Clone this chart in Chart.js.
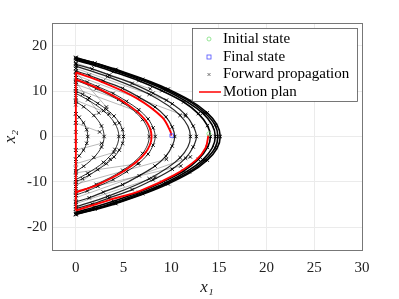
<!DOCTYPE html>
<html>
<head>
<meta charset="utf-8">
<script src="https://cdn.jsdelivr.net/npm/chart.js@4/dist/chart.umd.min.js"></script>
<style>
  body { margin: 0; background: #fff; }
</style>
</head>
<body>
<canvas id="myChart" width="399" height="299"></canvas>
<script>
const xTicks = [0, 5, 10, 15, 20, 25, 30];
const yTicks = [-20, -10, 0, 10, 20];

const initialState = [[13.95, 0.6]];
const finalState = [[10.05, 0.2]];

// forward propagation, one list of [x1, x2] per trajectory
const fwdOuter = [
  [[0,17.4],[4.20,14.79],[9.69,10.44],[13.78,5.22],[15.14,0],[13.78,-5.22],[9.69,-10.44],[4.20,-14.79],[0,-17.2]],
  [[0,17.25],[2.0,16.2],[4.13,14.66],[7.0,12.6],[9.52,10.35],[11.9,7.8],[13.54,5.18],[14.6,2.5],[14.88,0],[14.6,-2.5],[13.54,-5.18],[11.9,-7.8],[9.52,-10.35],[7.0,-12.6],[4.13,-14.66],[2.0,-16.0],[0,-17.1]],
  [[0,17.1],[4.06,14.54],[9.36,10.26],[13.30,5.13],[14.62,0],[13.30,-5.13],[9.36,-10.26],[4.06,-14.54],[0,-17.0]],
  [[0,16.8],[1.9,15.7],[3.92,14.28],[6.6,12.3],[9.03,10.08],[11.3,7.6],[12.84,5.04],[13.8,2.4],[14.11,0],[13.8,-2.4],[12.84,-5.04],[11.3,-7.6],[9.03,-10.08],[6.6,-12.3],[3.92,-14.28],[1.9,-15.6],[0,-16.7]]
];
const fwdMiddle = [
  [[0,15.9],[1.7,14.9],[3.51,13.52],[5.9,11.7],[8.09,9.54],[10.1,7.2],[11.50,4.77],[12.3,2.3],[12.64,0],[12.3,-2.3],[11.50,-4.77],[10.1,-7.2],[8.09,-9.54],[5.9,-11.7],[3.51,-13.52],[1.7,-14.9],[0,-15.9]],
  [[0,15.5],[3.33,13.18],[7.69,9.30],[10.93,4.65],[12.01,0],[10.93,-4.65],[7.69,-9.30],[3.33,-13.18],[0,-15.5]],
  [[0,14.4],[1.4,13.5],[2.88,12.24],[4.9,10.6],[6.64,8.64],[8.3,6.5],[9.44,4.32],[10.1,2.1],[10.37,0],[10.1,-2.1],[9.44,-4.32],[8.3,-6.5],[6.64,-8.64],[4.9,-10.6],[2.88,-12.24],[1.4,-13.5],[0,-14.4]]
];
const fwdInner = [
  [[0,12.9],[1.2,12.0],[2.31,10.97],[3.9,9.5],[5.32,7.74],[6.6,5.9],[7.57,3.87],[8.1,1.9],[8.32,0],[8.1,-1.9],[7.57,-3.87],[6.6,-5.9],[5.32,-7.74],[3.9,-9.5],[2.31,-10.97],[1.2,-12.0],[0,-12.9]],
  [[0,12.4],[2.13,10.54],[4.92,7.44],[7.00,3.72],[7.69,0],[7.00,-3.72],[4.92,-7.44],[2.13,-10.54],[0,-12.4]],
  [[0,10.0],[0.7,9.3],[1.39,8.5],[2.3,7.3],[3.2,6.0],[4.0,4.5],[4.55,3.0],[4.9,1.5],[5.0,0],[4.9,-1.5],[4.55,-3.0],[4.0,-4.5],[3.2,-6.0],[2.3,-7.3],[1.39,-8.5],[0.7,-9.3],[0,-10.0]],
  [[0,9.5],[1.25,8.08],[2.89,5.7],[4.10,2.85],[4.51,0],[4.10,-2.85],[2.89,-5.7],[1.25,-8.08],[0,-9.5]],
  [[0,7.7],[0.82,6.55],[1.89,4.62],[2.69,2.31],[2.96,0],[2.69,-2.31],[1.89,-4.62],[0.82,-6.55],[0,-7.7]],
  [[0,5.0],[0.35,4.25],[0.8,3.0],[1.14,1.5],[1.25,0],[1.14,-1.5],[0.8,-3.0],[0.35,-4.25],[0,-5.0]]
];
const fwdFan = [
  [[0,16.2],[7.8,10.5]], [[0,15.0],[9.5,8.0]], [[0,13.5],[11.5,4.5]],
  [[0,11.5],[4.5,8.2]], [[0,10.5],[6.5,5.5]], [[0,8],[3.5,5]],
  [[0,3],[2.5,1]], [[0,-3],[2.7,-1.5]], [[0,-6],[4,-3.5]],
  [[0,-8],[6.5,-6]], [[0,-10.5],[9.5,-5]], [[0,-12],[11,-6.5]], [[0,-13.5],[12,-4.5]],
  [[0,14.2],[3.2,6.5]], [[0,12],[2.4,5.2]], [[0,-11],[3.6,-5]], [[0,-14.8],[8.3,-9]]
];
const fwdAxis = [[0,17.4],[0,16],[0,15],[0,13.5],[0,12],[0,10],[0,8.5],[0,7],[0,5],[0,3],[0,1],
  [0,-1],[0,-3],[0,-5],[0,-7],[0,-8.5],[0,-10],[0,-11.5],[0,-13],[0,-14.5],[0,-16],[0,-17.2]];

// motion plan
const planAxis = [[0,14.1],[0,-16.3]];
const planTop = [[0,14.1],[2.76,11.99],[6.36,8.46],[9.05,4.23],[9.94,1.0],[10.0,0.2]];
const planInner = [[0,12.6],[2.2,10.71],[5.08,7.56],[7.22,3.78],[7.94,0],[7.22,-3.78],[5.08,-7.56],[2.2,-10.71],[0,-12.3]];
const planBottom = [[0,-16.3],[3.5,-14.0],[6.8,-11.9],[10.3,-8.5],[12.6,-5.2],[13.6,-2.5],[13.9,0.3]];

const serif = "'Liberation Serif', 'Times New Roman', serif";
const toXY = (arr) => arr.map(p => ({ x: p[0], y: p[1] }));

const datasets = [];
datasets.push({ label: "Initial state", data: toXY(initialState), showLine: false,
  pointStyle: "circle", pointRadius: 2, borderColor: "#7ee07e", backgroundColor: "transparent", borderWidth: 0.8 });
datasets.push({ label: "Final state", data: toXY(finalState), showLine: false,
  pointStyle: "rect", pointRadius: 2.5, borderColor: "#4d4dff", backgroundColor: "transparent", borderWidth: 0.8 });
[planAxis, planTop, planInner, planBottom].forEach((line) => {
  datasets.push({ label: "Motion plan", data: toXY(line), showLine: true, tension: 0.35,
    borderColor: "#ff0000", borderWidth: 1.9, pointRadius: 0 });
});
function addForward(group, width, color) {
  group.forEach((traj) => {
    datasets.push({ label: "Forward propagation", data: toXY(traj), showLine: true, tension: 0.35,
      borderColor: color, borderWidth: width,
      pointStyle: "crossRot", pointRadius: 2.4, pointBorderColor: "#000", pointBorderWidth: 0.9 });
  });
}
addForward(fwdOuter, 1.6, "#000");
addForward(fwdMiddle, 1.2, "rgba(0,0,0,0.85)");
addForward(fwdInner, 1.0, "rgba(0,0,0,0.8)");
addForward(fwdFan, 0.5, "rgba(0,0,0,0.55)");
datasets.push({ label: "Forward propagation", data: toXY(fwdAxis), showLine: false,
  pointStyle: "crossRot", pointRadius: 2.4, pointBorderColor: "#000", pointBorderWidth: 0.9 });

const boxPlugin = {
  id: "box",
  afterDraw(chart) {
    const { ctx, chartArea: a } = chart;
    ctx.save();
    ctx.strokeStyle = "#777";
    ctx.lineWidth = 1;
    ctx.strokeRect(a.left + 0.5, a.top + 0.5, a.right - a.left, a.bottom - a.top);

    // legend in the top right corner
    const lx = 192, ly = 28, lw = 165, lh = 73;
    ctx.fillStyle = "#fff";
    ctx.fillRect(lx, ly, lw, lh);
    ctx.strokeStyle = "#555";
    ctx.lineWidth = 0.8;
    ctx.strokeRect(lx + 0.5, ly + 0.5, lw, lh);
    const rows = [39, 57, 74.5, 92];
    const labels = ["Initial state", "Final state", "Forward propagation", "Motion plan"];
    ctx.font = "15px " + serif;
    ctx.fillStyle = "#000";
    ctx.textBaseline = "middle";
    labels.forEach((t, i) => ctx.fillText(t, 223, rows[i]));
    ctx.lineWidth = 0.8;
    ctx.strokeStyle = "#7ee07e";
    ctx.beginPath(); ctx.arc(209, rows[0], 2, 0, Math.PI * 2); ctx.stroke();
    ctx.strokeStyle = "#4d4dff";
    ctx.strokeRect(207, rows[1] - 2, 4, 4);
    ctx.strokeStyle = "#555";
    ctx.beginPath();
    ctx.moveTo(207.5, rows[2] - 1.5); ctx.lineTo(210.5, rows[2] + 1.5);
    ctx.moveTo(210.5, rows[2] - 1.5); ctx.lineTo(207.5, rows[2] + 1.5);
    ctx.stroke();
    ctx.strokeStyle = "#ff0000";
    ctx.lineWidth = 1.5;
    ctx.beginPath(); ctx.moveTo(199, rows[3]); ctx.lineTo(221, rows[3]); ctx.stroke();
    ctx.restore();
  }
};

const bgPlugin = {
  id: "bg",
  beforeDraw(chart) {
    const ctx = chart.ctx;
    ctx.save();
    ctx.fillStyle = "#fff";
    ctx.fillRect(0, 0, chart.width, chart.height);
    ctx.restore();
  }
};

const config = {
  type: "scatter",
  data: { datasets },
  options: {
    responsive: false,
    animation: false,
    layout: { padding: { top: 23, right: 37, left: 0, bottom: 0 } },
    plugins: { legend: { display: false }, tooltip: { enabled: false } },
    scales: {
      x: {
        type: "linear", min: -2.5, max: 30,
        afterBuildTicks: (s) => { s.ticks = xTicks.map(v => ({ value: v })); },
        afterFit: (s) => { s.height = 49; },
        grid: { color: "#ebebeb", drawTicks: false },
        border: { color: "#777" },
        ticks: { color: "#222", padding: 9, font: { family: serif, size: 15 } },
        title: { display: true, text: "x₁", color: "#222", padding: { top: 0, bottom: 1 },
          font: { family: serif, size: 17, style: "italic" } }
      },
      y: {
        type: "linear", min: -25, max: 25,
        afterBuildTicks: (s) => { s.ticks = yTicks.map(v => ({ value: v })); },
        afterFit: (s) => { s.width = 52; },
        grid: { color: "#ebebeb", drawTicks: false },
        border: { color: "#777" },
        ticks: { color: "#222", padding: 5, font: { family: serif, size: 15 } },
        title: { display: true, text: "x₂", color: "#222", padding: { top: 0, bottom: 2 },
          font: { family: serif, size: 17, style: "italic" } }
      }
    }
  },
  plugins: [bgPlugin, boxPlugin]
};

new Chart(document.getElementById("myChart"), config);
</script>
</body>
</html>
